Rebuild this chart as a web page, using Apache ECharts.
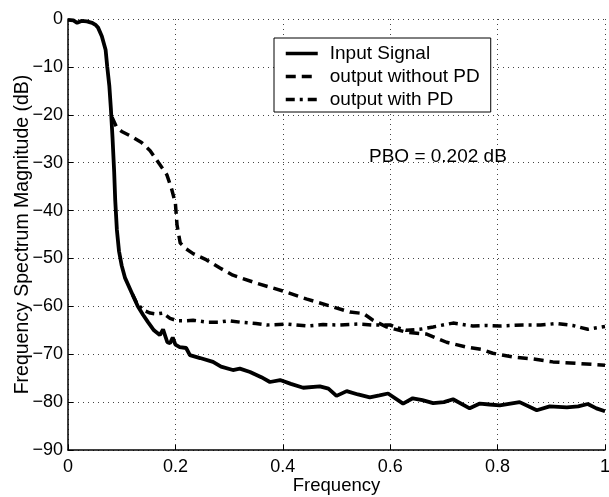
<!DOCTYPE html>
<html lang="en">
<head>
    <meta charset="UTF-8">
    <title>Frequency Spectrum</title>
    <style>
        html, body { margin: 0; padding: 0; background: #fff; }
        #main { width: 609px; height: 497px; }
    </style>
    <script src="https://cdn.jsdelivr.net/npm/echarts@6/dist/echarts.min.js"></script>
</head>
<body>
<div id="main"></div>
<script type="text/javascript">
    // values (frequency, dB)
    var inputFreq = [0, 0.01, 0.017, 0.025, 0.035, 0.045, 0.052, 0.056, 0.063, 0.07, 0.073, 0.077, 0.08, 0.083, 0.086, 0.088, 0.091, 0.095, 0.1, 0.106, 0.118, 0.13, 0.14, 0.149, 0.16, 0.171, 0.177, 0.185, 0.19, 0.195, 0.2, 0.208, 0.22, 0.227, 0.246, 0.27, 0.285, 0.307, 0.32, 0.339, 0.36, 0.376, 0.395, 0.415, 0.438, 0.469, 0.485, 0.5, 0.519, 0.54, 0.562, 0.58, 0.596, 0.624, 0.642, 0.66, 0.68, 0.7, 0.717, 0.748, 0.767, 0.785, 0.804, 0.841, 0.873, 0.897, 0.929, 0.95, 0.968, 0.984, 1.0];
    var inputMag = [-0.2, -0.3, -0.8, -0.4, -0.5, -0.8, -1.3, -1.8, -3.6, -6.4, -9.9, -14, -19, -25, -32, -38, -44, -48.5, -51.5, -54, -57, -60, -61.8, -63.3, -65, -66, -64.8, -67.5, -67.7, -66.5, -68, -68.5, -68.7, -70.2, -70.8, -71.6, -72.6, -73.3, -73.0, -73.7, -74.8, -75.8, -75.4, -76.2, -77, -76.7, -77.2, -78.7, -77.7, -78.4, -79, -78.6, -78.2, -80.3, -79.2, -79.6, -80.2, -80.0, -79.4, -81.3, -80.3, -80.5, -80.7, -80, -81.7, -80.9, -81.1, -80.9, -80.4, -81.3, -81.9];

    var noPdFreq = [0.082, 0.09, 0.1, 0.121, 0.137, 0.153, 0.171, 0.184, 0.193, 0.2, 0.203, 0.209, 0.22, 0.233, 0.258, 0.283, 0.307, 0.352, 0.4, 0.445, 0.49, 0.525, 0.55, 0.568, 0.593, 0.63, 0.668, 0.705, 0.742, 0.77, 0.791, 0.829, 0.866, 0.903, 0.947, 1.0];
    var noPdMag = [-20.5, -22.5, -23.5, -24.7, -25.8, -27.5, -30.4, -32.5, -35.5, -38.5, -43, -46.8, -48, -49, -50.3, -52, -53.5, -55.2, -56.8, -58.5, -60, -61.2, -61.5, -62.9, -64.3, -65.4, -65.8, -67.5, -68.5, -69, -69.8, -70.6, -71, -71.6, -71.9, -72.3];

    var pdFreq = [0.12, 0.128, 0.14, 0.153, 0.165, 0.177, 0.19, 0.203, 0.22, 0.233, 0.258, 0.28, 0.3, 0.32, 0.35, 0.37, 0.407, 0.445, 0.475, 0.506, 0.54, 0.568, 0.6, 0.615, 0.63, 0.655, 0.68, 0.717, 0.754, 0.78, 0.804, 0.847, 0.88, 0.91, 0.94, 0.968, 1.0];
    var pdMag = [-57.5, -59.3, -60.8, -61.4, -61.6, -61.4, -62.5, -63, -63, -62.9, -63.3, -63.3, -63.0, -63.3, -63.6, -63.9, -63.7, -64.1, -63.8, -63.9, -63.7, -63.9, -63.9, -64.5, -65, -64.8, -64.3, -63.5, -64.1, -64, -64.1, -63.9, -63.9, -63.6, -64, -64.8, -64.2];

    var seriesNames = ['Input Signal', 'output without PD', 'output with PD'];
    var xTicks = [0, 0.2, 0.4, 0.6, 0.8, 1];
    var yTicks = [0, -10, -20, -30, -40, -50, -60, -70, -80, -90];

    function pairs(xs, ys) {
        var out = [];
        for (var i = 0; i < xs.length; i++) out.push([xs[i], ys[i]]);
        return out;
    }

    var font = 'Liberation Sans, Arial, Helvetica, sans-serif';
    var gridLine = { show: true, showMinLine: true, showMaxLine: true, lineStyle: { color: '#444', width: 1, type: [1, 4] } };

    var myChart = echarts.init(document.getElementById('main'));
    var option = {
        animation: false,
        backgroundColor: '#fff',
        textStyle: { fontFamily: font, color: '#000' },
        grid: { left: 68, right: 4, top: 19, bottom: 47, containLabel: false, outerBoundsMode: 'none' },
        legend: {
            orient: 'vertical',
            left: 274,
            top: 38,
            data: seriesNames,
            backgroundColor: '#fff',
            borderColor: '#000',
            borderWidth: 1,
            borderRadius: 0,
            padding: [6, 11, 3, 10],
            itemGap: 4,
            itemWidth: 32,
            itemHeight: 14,
            itemStyle: { opacity: 0 },
            lineStyle: { width: 3.5 },
            textStyle: { fontFamily: font, fontSize: 19, color: '#000', lineHeight: 19, padding: [0, 0, 0, 7] }
        },
        xAxis: {
            type: 'value',
            min: 0, max: 1, interval: 0.2,
            name: 'Frequency',
            nameLocation: 'middle',
            nameGap: 26,
            nameMoveOverlap: false,
            nameTextStyle: { fontFamily: font, fontSize: 18.5, color: '#000' },
            axisLine: { show: true, onZero: false, lineStyle: { color: '#000', width: 1.5 } },
            axisTick: { show: true, inside: true, length: 5, lineStyle: { color: '#000' } },
            axisLabel: {
                fontFamily: font, fontSize: 18, color: '#000', margin: 8,
                formatter: function (v) {
                    for (var i = 0; i < xTicks.length; i++) if (Math.abs(v - xTicks[i]) < 1e-9) return String(xTicks[i]);
                    return '';
                }
            },
            splitLine: gridLine
        },
        yAxis: {
            type: 'value',
            min: -90, max: 0, interval: 10,
            name: 'Frequency Spectrum Magnitude (dB)',
            nameLocation: 'middle',
            nameGap: 35,
            nameMoveOverlap: false,
            nameRotate: 90,
            nameTextStyle: { fontFamily: font, fontSize: 19.5, color: '#000' },
            axisLine: { show: true, onZero: false, lineStyle: { color: '#000', width: 1.5 } },
            axisTick: { show: true, inside: true, length: 5, lineStyle: { color: '#000' } },
            axisLabel: {
                fontFamily: font, fontSize: 18, color: '#000', margin: 5,
                formatter: function (v) {
                    var r = Math.round(v);
                    if (yTicks.indexOf(r) < 0) return '';
                    return r < 0 ? '\u2212' + Math.abs(r) : String(r);
                }
            },
            splitLine: gridLine
        },
        graphic: [{
            type: 'text',
            left: 369,
            top: 147,
            style: { text: 'PBO = 0.202 dB', font: '19px ' + font, fill: '#000' }
        }],
        series: [{
            name: seriesNames[0],
            type: 'line',
            symbol: 'none',
            data: pairs(inputFreq, inputMag),
            lineStyle: { color: '#000', width: 3.8, type: 'solid' },
            itemStyle: { color: '#000' },
            z: 3
        }, {
            name: seriesNames[1],
            type: 'line',
            symbol: 'none',
            data: pairs(noPdFreq, noPdMag),
            lineStyle: { color: '#000', width: 3.5, type: [10, 6] },
            itemStyle: { color: '#000' },
            z: 2
        }, {
            name: seriesNames[2],
            type: 'line',
            symbol: 'none',
            data: pairs(pdFreq, pdMag),
            lineStyle: { color: '#000', width: 3.5, type: [9, 5, 3, 5] },
            itemStyle: { color: '#000' },
            z: 2
        }]
    };
    myChart.setOption(option);
</script>
</body>
</html>
